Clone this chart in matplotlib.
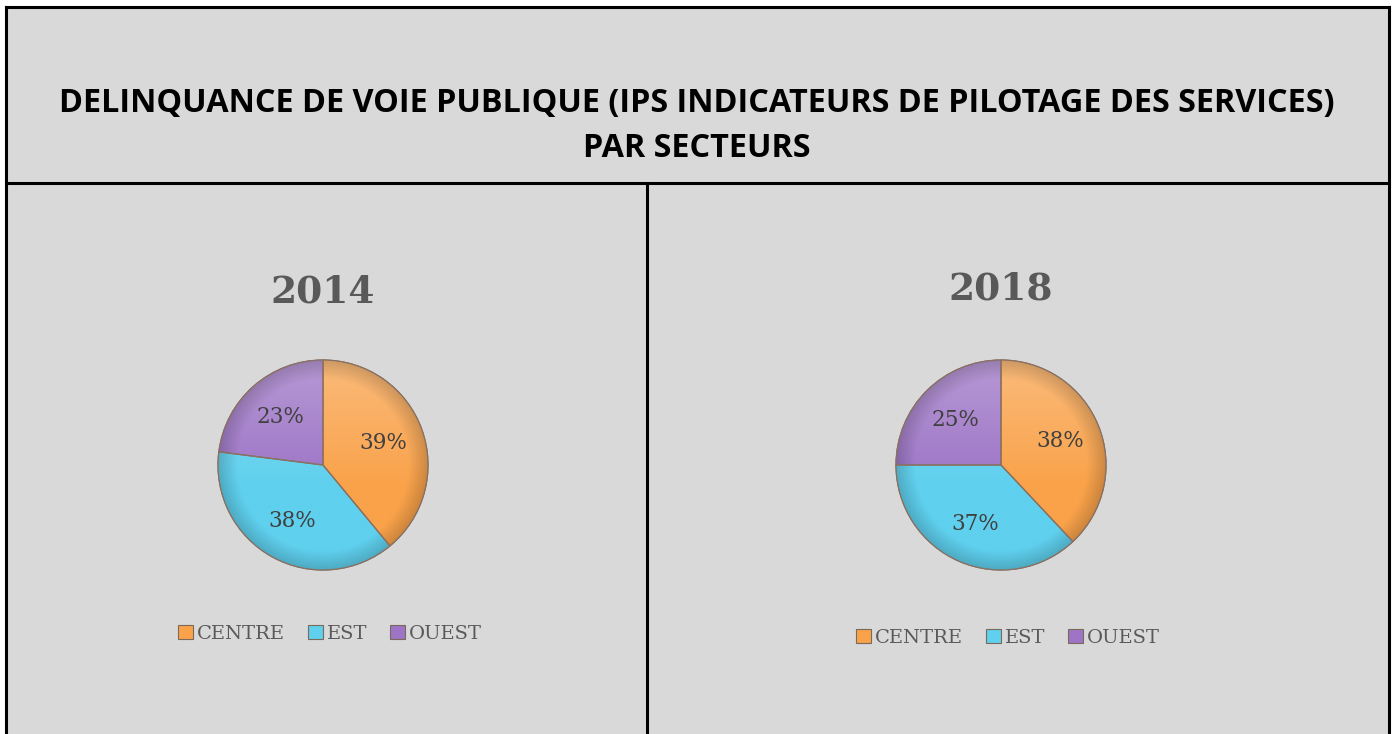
import numpy as np
import matplotlib.pyplot as plt
from matplotlib.colors import to_rgb
from matplotlib.patches import Rectangle
from matplotlib.lines import Line2D

# data
sectors = ['CENTRE', 'EST', 'OUEST']
values_2014 = [39, 38, 23]
values_2018 = [38, 37, 25]
years = ['2014', '2018']
colors = ['#f9a24a', '#5fd0ee', '#9d74c6']

W, H = 1394, 734

def fx(px):
	return px / W

def fy(py):
	return 1 - py / H

def shaded(color, n=300):
	# soft top light + darker rim, like the office 3D bevel
	yy, xx = np.mgrid[1:-1:n * 1j, -1:1:n * 1j]
	rr = np.sqrt(xx ** 2 + yy ** 2)
	base = np.array(to_rgb(color))
	light = np.clip(0.22 * (yy + 0.2), 0, 0.3)[..., None]
	dark = np.clip((rr - 0.82) / 0.18, 0, 1)[..., None] * 0.18
	img = base * (1 - light) + light
	img = img * (1 - dark)
	return np.clip(img, 0, 1)

def draw_pie(fig, cx, cy, r, vals, year, ty, ly):
	ax = fig.add_axes([fx(cx - r), fy(cy + r), 2 * r / W, 2 * r / H])
	ax.set_zorder(5)
	wedges, _, autotexts = ax.pie(vals, colors=colors, startangle=90, counterclock=False,
		autopct='%1.0f%%', pctdistance=0.61, radius=1,
		wedgeprops={'edgecolor': '#7a6a5a', 'linewidth': 0.8})
	for w, c in zip(wedges, colors):
		im = ax.imshow(shaded(c), extent=(-1, 1, -1, 1), zorder=1.5, interpolation='bilinear')
		im.set_clip_path(w)
	for w in wedges:
		w.set_zorder(1)
	ax.pie(vals, colors=['none'] * 3, startangle=90, counterclock=False, radius=1,
		wedgeprops={'edgecolor': '#8a7060', 'linewidth': 0.9, 'zorder': 2})
	for t in autotexts:
		t.set_fontfamily('DejaVu Serif')
		t.set_fontsize(15.5)
		t.set_color('#404040')
		t.set_zorder(3)
	ax.set_xlim(-1.0, 1.0)
	ax.set_ylim(-1.0, 1.0)
	ax.axis('off')
	fig.text(fx(cx), fy(ty), year, ha='center', va='center', fontsize=27,
		fontweight='bold', family='DejaVu Serif', color='#595959')
	fig.legend(wedges, sectors, loc='center', bbox_to_anchor=(fx(cx + 7), fy(ly)),
		ncol=3, frameon=False, handlelength=0.75, handleheight=0.75, handletextpad=0.2,
		columnspacing=1.2, prop={'family': 'DejaVu Serif', 'size': 14},
		labelcolor='#595959')

def main():
	fig = plt.figure(figsize=(13.94, 7.34), dpi=100)
	fig.patch.set_facecolor('white')

	# grey panel and table borders
	fig.add_artist(Rectangle((fx(6), 0), fx(1389) - fx(6), fy(7), transform=fig.transFigure,
		facecolor='#d9d9d9', edgecolor='none', zorder=-10))
	lw = 2.2
	for xs, ys in [([6, 1389], [7, 7]), ([6, 6], [7, 734]), ([1389, 1389], [7, 734]),
			([6, 1389], [183, 183]), ([647, 647], [183, 734])]:
		fig.add_artist(Line2D([fx(x) for x in xs], [fy(y) for y in ys], color='black',
			linewidth=lw, transform=fig.transFigure, zorder=1))

	fig.text(fx(697), fy(126), 'DELINQUANCE DE VOIE PUBLIQUE (IPS INDICATEURS DE PILOTAGE DES SERVICES)\nPAR SECTEURS',
		ha='center', va='center', fontsize=23.3, fontweight='bold', family='Open Sans',
		linespacing=1.5, color='black')

	draw_pie(fig, 323, 465, 105, values_2014, years[0], 292, 634)
	draw_pie(fig, 1001, 465, 105, values_2018, years[1], 289, 638)

	plt.savefig('out.png', dpi=100, facecolor=fig.get_facecolor())

if __name__ == '__main__':
	main()
